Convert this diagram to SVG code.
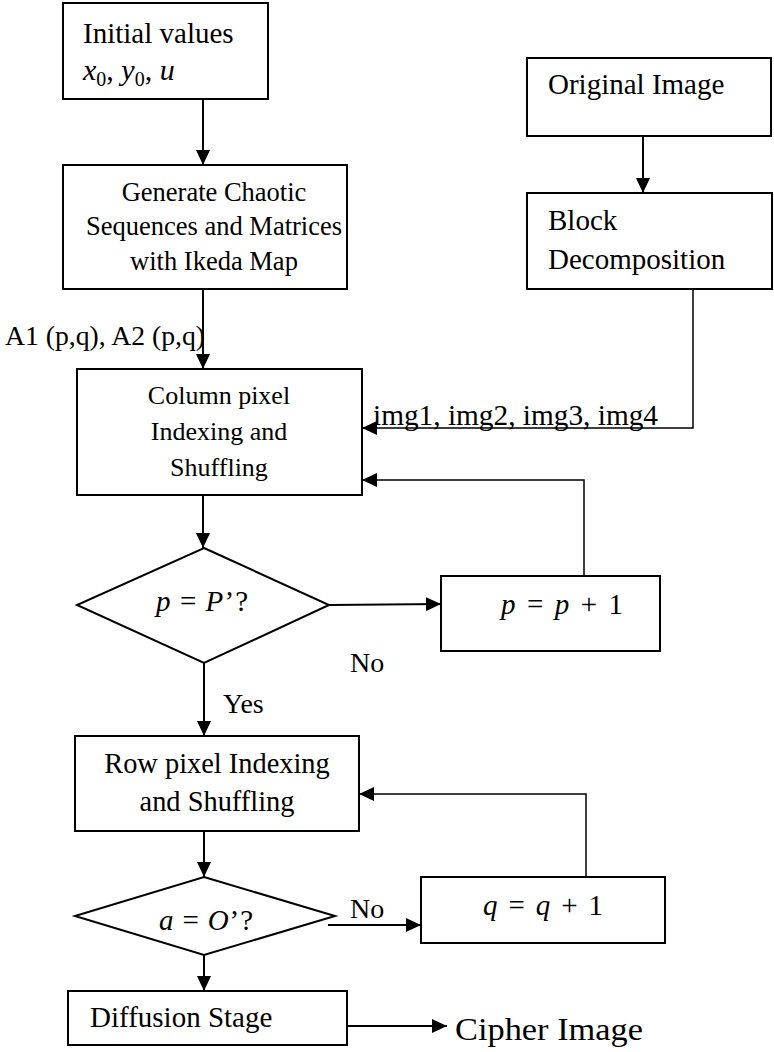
<svg xmlns="http://www.w3.org/2000/svg" width="774" height="1052" viewBox="0 0 774 1052">
  <style>
    .box { fill: #fff; stroke: #000; stroke-width: 2; }
    .t { font-family: "Liberation Serif", "Times New Roman", serif; fill: #000; }
    .m { font-family: "Liberation Serif", "Times New Roman", serif; font-style: italic; fill: #000; }
    .up { font-style: normal; }
    .wire { fill: none; stroke: #000; stroke-width: 2; }
    .thin { stroke-width: 1.5; }
  </style>
  <defs>
    <marker id="arrow" markerUnits="userSpaceOnUse" markerWidth="16" markerHeight="14" refX="15" refY="7" orient="auto">
      <path d="M0,0 L15,7 L0,14 Z" fill="#000"/>
    </marker>
  </defs>

  <rect width="774" height="1052" fill="#fff"/>

  <!-- connectors -->
  <g id="connectors">
    <path class="wire" d="M203,99 V165" marker-end="url(#arrow)"/>
    <path class="wire" d="M203,289 V369" marker-end="url(#arrow)"/>
    <path class="wire" d="M643,136 V193" marker-end="url(#arrow)"/>
    <path class="wire thin" d="M693,289 V428 H362" marker-end="url(#arrow)"/>
    <path class="wire thin" d="M584,576 V480 H362" marker-end="url(#arrow)"/>
    <path class="wire" d="M203,495 V548" marker-end="url(#arrow)"/>
    <path class="wire" d="M329,605 L441,604" marker-end="url(#arrow)"/>
    <path class="wire" d="M204,663 V736" marker-end="url(#arrow)"/>
    <path class="wire thin" d="M586,877 V794 H359" marker-end="url(#arrow)"/>
    <path class="wire" d="M204,831 V877" marker-end="url(#arrow)"/>
    <path class="wire" d="M328,925 H421" marker-end="url(#arrow)"/>
    <path class="wire" d="M204,943 V991" marker-end="url(#arrow)"/>
    <path class="wire" d="M347,1026 H447" marker-end="url(#arrow)"/>
    <text class="t" x="5" y="345" font-size="28" textLength="200" lengthAdjust="spacingAndGlyphs">A1 (p,q), A2 (p,q)</text>
    <text class="t" x="373" y="425" font-size="29" textLength="285" lengthAdjust="spacingAndGlyphs">img1, img2, img3, img4</text>
    <text class="t" x="350" y="672" font-size="28">No</text>
    <text class="t" x="223" y="713" font-size="28">Yes</text>
    <text class="t" x="350" y="918" font-size="28">No</text>
    <text class="t" x="455" y="1040" font-size="31" textLength="188" lengthAdjust="spacingAndGlyphs">Cipher Image</text>
  </g>

  <!-- initial values -->
  <g id="initial">
    <rect class="box" x="63" y="3" width="205" height="96"/>
    <text class="t" x="83" y="43" font-size="29">Initial values</text>
    <text class="m" x="83" y="80" font-size="30">x<tspan class="up" font-size="20" dy="6">0</tspan><tspan class="up" dy="-6">, </tspan>y<tspan class="up" font-size="20" dy="6">0</tspan><tspan class="up" dy="-6">, </tspan>u</text>
  </g>

  <!-- chaotic sequence generation -->
  <g id="ikeda">
    <rect class="box" x="63" y="165" width="284" height="124"/>
    <g class="t" font-size="26.5" text-anchor="middle">
      <text x="214" y="201">Generate Chaotic</text>
      <text x="214" y="235">Sequences and Matrices</text>
      <text x="214" y="270">with Ikeda Map</text>
    </g>
  </g>

  <!-- original image -->
  <g id="original">
    <rect class="box" x="527" y="58" width="244" height="78"/>
    <text class="t" x="548" y="94" font-size="29">Original Image</text>
  </g>

  <!-- block decomposition -->
  <g id="blocks">
    <rect class="box" x="527" y="193" width="245" height="96"/>
    <text class="t" x="548" y="230" font-size="29">Block</text>
    <text class="t" x="548" y="269" font-size="29">Decomposition</text>
  </g>

  <!-- column shuffling -->
  <g id="column">
    <rect class="box" x="77" y="369" width="285" height="126"/>
    <g class="t" font-size="26" text-anchor="middle">
      <text x="219" y="404">Column pixel</text>
      <text x="219" y="440">Indexing and</text>
      <text x="219" y="476">Shuffling</text>
    </g>
  </g>

  <!-- column loop test -->
  <g id="testP">
    <polygon class="box" points="204,548 329,605 204,663 77,605"/>
    <text class="m" x="156" y="611" font-size="29" textLength="92" lengthAdjust="spacing">p <tspan class="up">=</tspan> P<tspan class="up">’?</tspan></text>
  </g>

  <!-- column counter -->
  <g id="incP">
    <rect class="box" x="441" y="576" width="219" height="75"/>
    <text class="m" x="501" y="614" font-size="29" textLength="122" lengthAdjust="spacing">p <tspan class="up">=</tspan> p <tspan class="up">+ 1</tspan></text>
  </g>

  <!-- row shuffling -->
  <g id="row">
    <rect class="box" x="75" y="736" width="284" height="95"/>
    <g class="t" font-size="28.4" text-anchor="middle">
      <text x="217" y="773">Row pixel Indexing</text>
      <text x="217" y="811">and Shuffling</text>
    </g>
  </g>

  <!-- row loop test -->
  <g id="testQ">
    <polygon class="box" points="204,877 335,916 204,955 75,916"/>
    <text class="m" x="159" y="930" font-size="29" textLength="94" lengthAdjust="spacing">a <tspan class="up">=</tspan> O<tspan class="up">’?</tspan></text>
  </g>

  <!-- row counter -->
  <g id="incQ">
    <rect class="box" x="421" y="877" width="244" height="66"/>
    <text class="m" x="483" y="915" font-size="29" textLength="120" lengthAdjust="spacing">q <tspan class="up">=</tspan> q <tspan class="up">+ 1</tspan></text>
  </g>

  <!-- diffusion -->
  <g id="diffusion">
    <rect class="box" x="68" y="991" width="279" height="54"/>
    <text class="t" x="90" y="1027" font-size="29">Diffusion Stage</text>
  </g>
</svg>
